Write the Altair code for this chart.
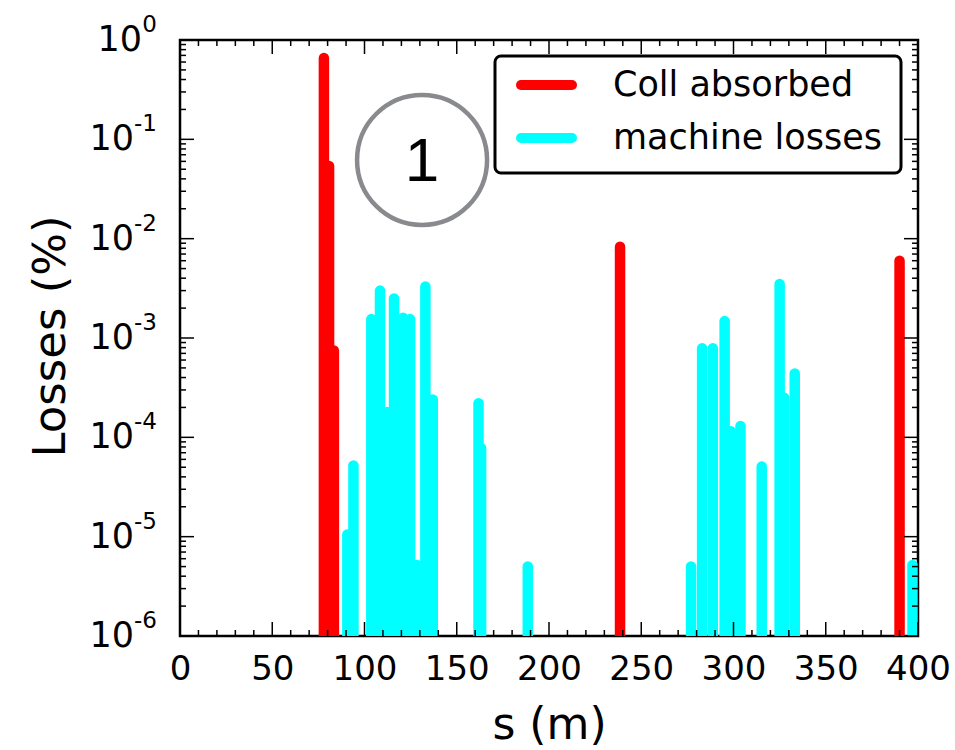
import altair as alt
import pandas as pd

# ---------------- data ----------------
series_names = ["Coll absorbed", "machine losses"]
series_colors = ["#ff0000", "#00ffff"]

coll_s = [78.0, 80.8, 83.4, 238.5, 390.0]
coll_v = [0.66, 0.054, 0.00075, 0.0083, 0.006]

mach_s = [90.7, 94.0, 103.7, 108.4, 112.2, 116.0, 120.9, 124.7, 128.5, 133.0,
          137.0, 161.8, 163.2, 188.5, 277.0, 283.0, 288.8, 295.2, 298.6, 303.8,
          315.3, 325.0, 327.5, 333.2, 397.0]
mach_v = [1.05e-5, 5.2e-5, 1.55e-3, 3.0e-3, 1.8e-4, 2.5e-3, 1.6e-3, 1.55e-3, 5.2e-6, 3.3e-3,
          2.4e-4, 2.2e-4, 7.8e-5, 5.0e-6, 5.0e-6, 7.9e-4, 7.9e-4, 1.48e-3, 1.15e-4, 1.3e-4,
          5.1e-5, 3.5e-3, 2.5e-4, 4.4e-4, 5.2e-6]

x_major = [0, 50, 100, 150, 200, 250, 300, 350, 400]
x_minor = [v for v in range(0, 401, 10) if v % 50 != 0]
y_exponents = [0, -1, -2, -3, -4, -5, -6]
y_major = [10.0 ** e for e in y_exponents]
y_minor = [k * 10.0 ** e for e in y_exponents[1:] for k in range(2, 10)]

anno_s = [131.2]
anno_v = [0.062]
anno_text = ["1"]

W, H = 738, 596
FONT = "DejaVu Sans"

bars = pd.DataFrame({
    "s": coll_s + mach_s,
    "v": coll_v + mach_v,
    "series": [series_names[0]] * len(coll_s) + [series_names[1]] * len(mach_s),
})

xscale = alt.Scale(domain=[0, 400], nice=False, zero=False)
yscale = alt.Scale(type="log", domain=[1e-6, 1], nice=False)

xaxis = alt.Axis(
    values=x_major, ticks=False, domain=False, grid=False, format="d",
    labelFont=FONT, labelFontSize=34, labelColor="black", labelPadding=16,
    labelFlush=False, labelOverlap=False,
    title="s (m)", titleFont=FONT, titleFontSize=44, titleFontWeight="normal",
    titleColor="black", titleX=369, titleY=102, titleBaseline="alphabetic",
    titleAlign="center")
yaxis = alt.Axis(
    labels=False, ticks=False, domain=False, grid=False,
    title="Losses (%)", titleFont=FONT, titleFontSize=45, titleFontWeight="normal",
    titleColor="black", titleAngle=270, titleX=-130, titleY=296,
    titleAlign="center", titleBaseline="middle")


def X(field="s"):
    return alt.X(f"{field}:Q", scale=xscale, axis=xaxis, title="s (m)")


def Y(field="v"):
    return alt.Y(f"{field}:Q", scale=yscale, axis=yaxis, title="Losses (%)")


bar_layer = alt.Chart(bars).mark_rule(strokeWidth=10.5, strokeCap="round", clip=True).encode(
    x=X(), y=Y(), y2=alt.datum(1e-6),
    color=alt.Color("series:N", scale=alt.Scale(domain=series_names, range=series_colors),
                    legend=None),
)

# ---- inward ticks ----
xt_major = pd.DataFrame({"s": x_major})
xt_minor = pd.DataFrame({"s": x_minor})
yt_major = pd.DataFrame({"v": y_major})
yt_minor = pd.DataFrame({"v": y_minor})


def xticks(df, y0, y1):
    return alt.Chart(df).mark_rule(color="black", strokeWidth=1.5).encode(
        x=X(), y=alt.value(y0), y2=alt.value(y1))


def yticks(df, x0, x1):
    return alt.Chart(df).mark_rule(color="black", strokeWidth=1.5).encode(
        y=Y(), x=alt.value(x0), x2=alt.value(x1))


MAJ, MIN = 14, 6
tick_layers = [
    xticks(xt_major, H, H - MAJ), xticks(xt_minor, H, H - MIN),
    xticks(xt_major, 0, MAJ), xticks(xt_minor, 0, MIN),
    yticks(yt_major, 0, MAJ), yticks(yt_minor, 0, MIN),
    yticks(yt_major, W, W - MAJ), yticks(yt_minor, W, W - MIN),
]

# ---- y tick labels 10^n ----
ylab = pd.DataFrame({
    "v": y_major,
    "base": ["10"] * len(y_exponents),
    "exp": [str(e) for e in y_exponents],
})
ybase = alt.Chart(ylab)
lab_layers = [
    ybase.transform_filter("datum.v < 1").mark_text(
        align="right", baseline="middle", font=FONT, fontSize=35, color="black").encode(
        y=Y(), x=alt.value(-46), text="base:N"),
    ybase.transform_filter("datum.v >= 1").mark_text(
        align="right", baseline="middle", font=FONT, fontSize=35, color="black").encode(
        y=Y(), x=alt.value(-38), text="base:N"),
    ybase.mark_text(align="right", baseline="middle", font=FONT, fontSize=23,
                    color="black", dy=-15).encode(
        y=Y(), x=alt.value(-23), text="exp:N"),
]

# ---- circled annotation ----
anno = pd.DataFrame({"s": anno_s, "v": anno_v, "t": anno_text})
circle = alt.Chart(anno).mark_point(shape="circle", size=16900, filled=False,
                                    stroke="#888a8d", strokeWidth=4.5, opacity=1).encode(
    x=X(), y=Y())
circle_txt = alt.Chart(anno).mark_text(font="Liberation Sans", fontSize=62, color="black",
                                       baseline="middle", align="center", dy=2).encode(
    x=X(), y=Y(), text="t:N")

# ---- legend (box, line samples, labels) ----
leg = pd.DataFrame({"series": series_names, "color": series_colors})
LX0, LX1, LY0, LY1 = 315, 721, 16, 133      # legend frame, plot-area pixels
ROW_Y = [45, 98]                             # row centres
legend_layers = [
    alt.Chart(leg).transform_filter(f"datum.series == '{series_names[0]}'").mark_rect(
        fill="white", stroke="black", strokeWidth=3, cornerRadius=6).encode(
        x=alt.value(LX0), x2=alt.value(LX1), y=alt.value(LY0), y2=alt.value(LY1)),
]
for i, name in enumerate(series_names):
    sub = alt.Chart(leg).transform_filter(f"datum.series == '{name}'")
    legend_layers.append(
        sub.mark_rule(strokeWidth=10, strokeCap="round", color=series_colors[i]).encode(
            x=alt.value(LX0 + 26), x2=alt.value(LX0 + 77), y=alt.value(ROW_Y[i])))
    legend_layers.append(
        sub.mark_text(align="left", baseline="middle", font=FONT, fontSize=35,
                      color="black").encode(
            x=alt.value(LX0 + 118), y=alt.value(ROW_Y[i]), text="series:N"))

chart = alt.layer(bar_layer, *tick_layers, *lab_layers, circle, circle_txt,
                  *legend_layers).properties(
    width=W, height=H,
    padding={"left": 180, "top": 40, "right": 37, "bottom": 114},
    autosize=alt.AutoSizeParams(type="none"),
    background="white",
).configure_view(stroke="black", strokeWidth=2.5)

chart.save("out.html", embed_options={"renderer": "svg", "actions": False})
